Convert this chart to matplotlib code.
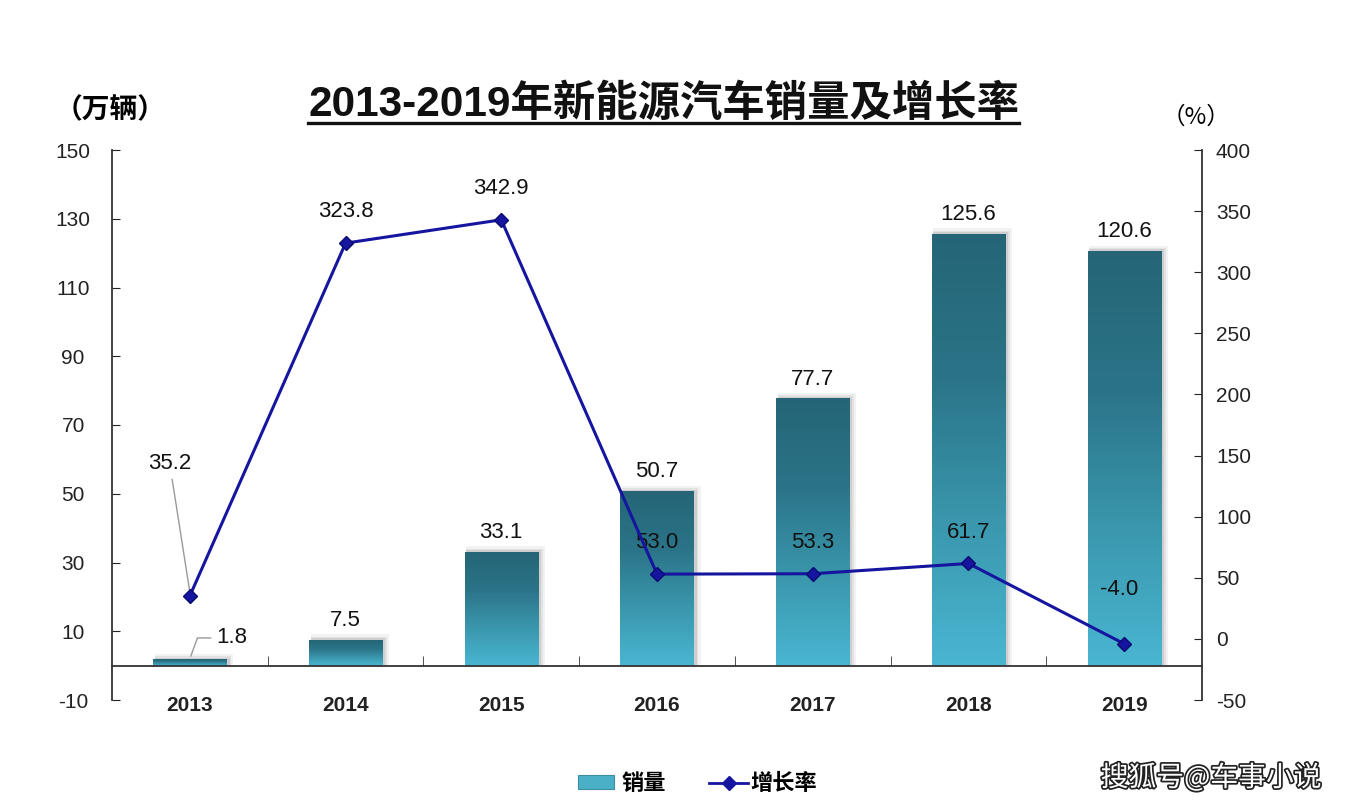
import matplotlib
matplotlib.use("Agg")
import matplotlib.pyplot as plt
import matplotlib.patheffects as pe
from matplotlib.patches import Rectangle
from matplotlib.lines import Line2D
from matplotlib.colors import LinearSegmentedColormap
import numpy as np

plt.rcParams['font.family'] = ['Liberation Sans', 'Noto Sans CJK SC', 'DejaVu Sans']

years = ['2013', '2014', '2015', '2016', '2017', '2018', '2019']
sales = [1.8, 7.5, 33.1, 50.7, 77.7, 125.6, 120.6]
growth = [35.2, 323.8, 342.9, 53.0, 53.3, 61.7, -4.0]
sales_labels = ['1.8', '7.5', '33.1', '50.7', '77.7', '125.6', '120.6']
growth_labels = ['35.2', '323.8', '342.9', '53.0', '53.3', '61.7', '-4.0']
left_ticks = [-10, 10, 30, 50, 70, 90, 110, 130, 150]
right_ticks = [-50, 0, 50, 100, 150, 200, 250, 300, 350, 400]

title = '2013-2019年新能源汽车销量及增长率'
left_unit = '（万辆）'
right_unit = '（%）'
legend_bar = '销量'
legend_line = '增长率'
watermark = '搜狐号@车事小说'

fig = plt.figure(figsize=(13.52, 8.10), dpi=100)
ax = fig.add_axes([112/1352, 1-700/810, (1202-112)/1352, 550/810])
ax2 = ax.twinx()

x = np.arange(len(years))
w = 0.47
cmap = LinearSegmentedColormap.from_list('g', ['#4ab6d2', '#3a97ad', '#2b7488', '#256577'])
grad = np.linspace(0, 1, 256).reshape(-1, 1)

ax.set_xlim(-0.5, len(years) - 0.5)
ax.set_ylim(-10, 150)
for xi, v in zip(x, sales):
    # soft shadow
    for k, a in zip([1.0, 0.6, 0.3], [0.10, 0.15, 0.22]):
        ax.add_patch(Rectangle((xi - w/2 + 0.01, 0), w + 0.035*k, v + 1.6*k,
                               facecolor='#888888', edgecolor='none', alpha=a, zorder=1))
    ax.imshow(grad, extent=[xi - w/2, xi + w/2, 0, v], origin='lower',
              cmap=cmap, aspect='auto', zorder=2, interpolation='bilinear')
ax.set_xlim(-0.5, len(years) - 0.5)
ax.set_ylim(-10, 150)

# axes styling
for s in ['top', 'right']:
    ax.spines[s].set_visible(False)
ax.spines['bottom'].set_position(('data', 0))
ax.spines['left'].set_color('#333333')
ax.spines['bottom'].set_color('#333333')
ax.spines['left'].set_linewidth(1.3)
ax.spines['bottom'].set_linewidth(1.3)
ax.set_yticks(left_ticks)
ax.set_yticklabels([str(t) for t in left_ticks])
ax.tick_params(axis='y', direction='in', length=6, labelsize=15, pad=28, colors='#222222')
for lab in ax.get_yticklabels():
    lab.set_horizontalalignment('center')
ax.set_xticks(x)
ax.set_xticklabels(years, fontsize=15, fontweight='bold', color='#222222')
ax.tick_params(axis='x', length=0, pad=22)
ax.set_xticks(x[:-1] + 0.5, minor=True)
ax.tick_params(axis='x', which='minor', direction='in', length=7, color='#333333')

ax2.set_ylim(-50, 400)
ax2.set_yticks(right_ticks)
ax2.set_yticklabels([str(t) for t in right_ticks])
ax2.tick_params(axis='y', direction='in', length=6, labelsize=15, pad=10, colors='#222222')
for s in ['top', 'left', 'bottom']:
    ax2.spines[s].set_visible(False)
ax2.spines['right'].set_color('#333333')
ax2.spines['right'].set_linewidth(1.3)

ax2.plot(x, growth, color='#1515a0', lw=2.2, marker='D', ms=7, mfc='#1515a0', mec='#0a0a70', zorder=5)

# labels for bars
lab_font = dict(fontsize=16, color='#111111', ha='center', va='bottom')
for i, (v, t) in enumerate(zip(sales, sales_labels)):
    if i == 0:
        ax.annotate(t, xy=(x[i], v + 0.2), xytext=(x[i] + 0.27, v + 3.2),
                    fontsize=16, color='#111111', ha='center', va='bottom',
                    arrowprops=dict(arrowstyle='-', color='#999999', lw=1,
                                    connectionstyle='angle,angleA=0,angleB=70,rad=0'))
    else:
        ax.text(x[i], v + 2.6, t, **lab_font)

# labels for line
for i, (v, t) in enumerate(zip(growth, growth_labels)):
    if i == 0:
        ax2.annotate(t, xy=(x[i], v + 3), xytext=(x[i] - 0.13, v + 100),
                     fontsize=16, color='#111111', ha='center', va='bottom',
                     arrowprops=dict(arrowstyle='-', color='#999999', lw=1))
    elif i == 6:
        ax2.text(x[i] - 0.03, v + 36, t, **lab_font)
    else:
        ax2.text(x[i], v + 17, t, **lab_font)

# title with underline
tt = fig.text(0.491, 0.871, title, fontsize=30.5, fontweight='bold', ha='center', va='center',
              color='#111111', family=['Liberation Sans', 'Noto Sans CJK SC'])
fig.canvas.draw()
bb = tt.get_window_extent().transformed(fig.transFigure.inverted())
fig.add_artist(Line2D([bb.x0, bb.x1], [bb.y0 + 0.002, bb.y0 + 0.002], color='#111111', lw=2.4,
                      transform=fig.transFigure))

fig.text(110/1352, 1-110/810, left_unit, fontsize=20, fontweight='bold', ha='center', va='center',
         family=['Noto Sans CJK SC'])
fig.text(1196/1352, 1-117/810, right_unit, fontsize=17, ha='center', va='center',
         family=['Noto Sans CJK SC'])

# legend
fig.add_artist(Rectangle((578/1352, 1-789/810), 36/1352, 14/810, transform=fig.transFigure,
                         facecolor='#4ab0c8', edgecolor='#3a8ea3', lw=0.8))
fig.text(622/1352, 1-783/810, legend_bar, fontsize=16, fontweight='bold', va='center', ha='left',
         family=['Noto Sans CJK SC'])
fig.add_artist(Line2D([709/1352, 748/1352], [1-783/810, 1-783/810], color='#1515a0', lw=2,
                      transform=fig.transFigure))
fig.add_artist(Line2D([728.5/1352], [1-783/810], color='#1515a0', marker='D', ms=7,
                      transform=fig.transFigure, lw=0))
fig.text(750/1352, 1-783/810, legend_line, fontsize=16, fontweight='bold', va='center', ha='left',
         family=['Noto Sans CJK SC'])

fig.text(1211/1352, 1-778/810, watermark, fontsize=20, color='white', ha='center', va='center',
         family=['Noto Sans CJK SC'],
         path_effects=[pe.withStroke(linewidth=2.5, foreground='#222222')])

fig.savefig('out.png', dpi=100, facecolor='white')
